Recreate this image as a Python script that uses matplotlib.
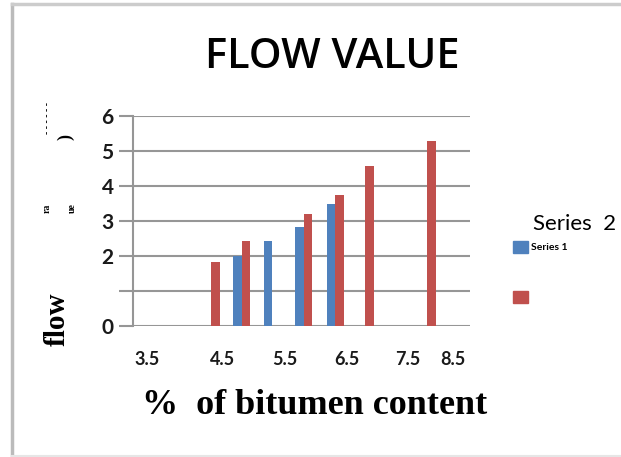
import matplotlib.pyplot as plt
import matplotlib.patches as mpatches
import numpy as np

# slot positions along the category axis (one slot per bar group)
slots = [2.45, 3.23, 4.01, 5.07, 6.0, 7.02, 8.86]
series1 = [np.nan, 2.0, 2.42, 2.82, 3.5, np.nan, np.nan]
series2 = [1.82, 2.42, np.nan, 3.21, 3.74, 4.56, 5.28]

xtick_pos = [0.41, 2.67, 4.51, 6.34, 8.16, 9.5]
xtick_labels = ['3.5', '4.5', '5.5', '6.5', '7.5', '8.5']
ytick_pos = [0, 1, 2, 3, 4, 5, 6]
ytick_labels = ['0', '', '2', '3', '4', '5', '6']

blue = '#4F81BD'
red = '#C0504D'
grid = '#969696'

fig = plt.figure(figsize=(6.21, 4.57), dpi=100)
ax = fig.add_axes([133 / 621, 1 - 326 / 457, 337 / 621, 210 / 457])

w = 0.25
s1 = np.array(series1)
s2 = np.array(series2)
x = np.array(slots)
# single bars sit on the slot, pairs sit side by side
both = ~np.isnan(s1) & ~np.isnan(s2)
x1 = np.where(both, x - w / 2, x)
x2 = np.where(both, x + w / 2, x)
ax.bar(x1, np.nan_to_num(s1), width=w, color=blue, zorder=3)
ax.bar(x2, np.nan_to_num(s2), width=w, color=red, zorder=3)

ax.set_xlim(0, 10)
ax.set_ylim(0, 6)
ax.set_yticks(ytick_pos)
ax.set_yticklabels(ytick_labels, fontsize=15, fontweight='bold', family='Lato', color='#1a1a1a')
ax.set_xticks(xtick_pos)
ax.set_xticklabels(xtick_labels, fontsize=13, fontweight='bold', family='Lato', color='#1a1a1a')
ax.tick_params(axis='x', length=0, pad=18)
ax.tick_params(axis='y', length=10, color=grid, width=1.5, pad=4)
ax.yaxis.grid(True, color=grid, linewidth=1.5, zorder=0)
for sp in ['top', 'right', 'bottom']:
    ax.spines[sp].set_visible(False)
ax.spines['left'].set_color(grid)
ax.spines['left'].set_linewidth(1.5)

fig.text(332 / 621, 1 - 57 / 457, 'FLOW VALUE', fontsize=30, family='Open Sans',
         fontweight='semibold', ha='center', va='center', color='black')
fig.text(315 / 621, 1 - 405 / 457, '%  of bitumen content', fontsize=26, family='Liberation Serif',
         fontweight='bold', ha='center', va='center')
fig.text(57 / 621, 1 - 319 / 457, 'flow', fontsize=21, family='Liberation Serif',
         fontweight='bold', rotation=90, ha='center', va='center')
fig.text(66 / 621, 1 - 137 / 457, ')', fontsize=13, family='Liberation Serif',
         fontweight='bold', rotation=90, ha='center', va='center')
fig.text(47 / 621, 1 - 118 / 457, '- - - - - -', fontsize=7, family='Liberation Serif',
         fontweight='bold', rotation=90, ha='center', va='center')
fig.text(47 / 621, 1 - 208 / 457, 'ra', fontsize=7, family='Liberation Serif',
         fontweight='bold', rotation=90, ha='center', va='center')
fig.text(72 / 621, 1 - 208 / 457, 'ue', fontsize=7, family='Liberation Serif',
         fontweight='bold', rotation=90, ha='center', va='center')

# legend drawn by hand (its layout is unusual)
fig.text(533 / 621, 1 - 224 / 457, 'Series  2', fontsize=16, family='Lato',
         ha='left', va='center')
fig.text(531 / 621, 1 - 247 / 457, 'Series 1', fontsize=7.5, family='Lato',
         fontweight='bold', ha='left', va='center')
fig.patches.append(mpatches.Rectangle((513 / 621, 1 - 253 / 457), 15 / 621, 12 / 457,
                                      transform=fig.transFigure, color=blue))
fig.patches.append(mpatches.Rectangle((513 / 621, 1 - 303 / 457), 15 / 621, 12 / 457,
                                      transform=fig.transFigure, color=red))

# outer frame (left and top edges)
fig.add_artist(plt.Line2D([12 / 621, 12 / 621], [0, 1 - 4 / 457], transform=fig.transFigure,
                          color='#bbbbbb', linewidth=2.5))
fig.add_artist(plt.Line2D([12 / 621, 1], [1 - 4 / 457, 1 - 4 / 457], transform=fig.transFigure,
                          color='#cccccc', linewidth=2.5))
fig.add_artist(plt.Line2D([12 / 621, 1], [1 / 457, 1 / 457], transform=fig.transFigure,
                          color='#e6e6e6', linewidth=1.5))

fig.savefig('out.png', dpi=100)
